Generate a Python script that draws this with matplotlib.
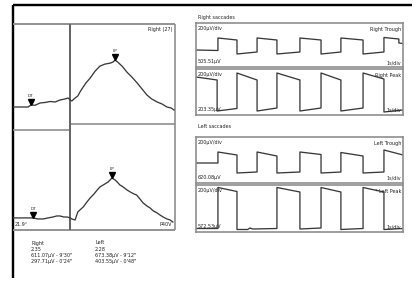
import matplotlib
matplotlib.use("Agg")
import matplotlib.pyplot as plt
from matplotlib.transforms import offset_copy

W, H = 415, 281

# ---------------- EOG light-rise curves (time in min, amplitude in µV) ----------------
right_t = [0, 1.3, 2.8, 3.3, 4.1, 5.0, 5.9, 6.9, 7.8, 8.7, 9.6, 10.2, 10.6, 10.9, 11.5, 12.0,
           12.4, 13.0, 13.5, 14.3, 15.2, 16.1, 17.0, 18.0, 18.5, 18.9, 19.4, 20.2, 21.1, 22.0,
           23.0, 23.9, 24.8, 25.7, 26.7, 27.6, 28.5, 29.3, 29.8]
right_v = [236, 236, 236, 252, 250, 268, 272, 280, 276, 292, 300, 308, 292, 284, 308, 324,
           356, 396, 428, 468, 523, 563, 579, 587, 595, 611, 595, 563, 515, 476,
           428, 380, 332, 300, 276, 260, 236, 228, 212]
left_t = [0, 0.7, 2.2, 3.7, 4.6, 5.6, 6.5, 7.4, 8.1, 8.7, 9.4, 10.0, 10.6, 10.9, 11.5, 12.0,
          13.0, 13.7, 14.3, 15.0, 15.6, 16.1, 16.7, 17.6, 18.0, 18.3, 18.9, 19.3, 19.8, 20.4,
          21.1, 21.7, 22.4, 22.9, 23.5, 24.1, 24.8, 25.4, 26.0, 26.7, 27.2, 27.8, 28.5, 29.1, 29.6]
left_v = [286, 286, 286, 286, 276, 276, 286, 295, 305, 305, 295, 295, 286, 276, 266, 344,
          392, 441, 480, 518, 557, 586, 605, 634, 654, 673, 654, 634, 605, 586,
          557, 538, 518, 508, 470, 431, 402, 382, 353, 334, 315, 295, 276, 266, 247]
right_dt = (3.3, 252)
right_lp = (18.9, 611)
left_dt = (3.7, 286)
left_lp = (18.3, 673)

# ---------------- Saccade traces (time in s, amplitude in µV) ----------------
rtr_t = [0, 1.06, 1.06, 1.98, 1.98, 2.95, 2.95, 3.91, 3.91, 5.02, 5.02, 6.04, 6.04, 7.0, 7.0,
         8.07, 8.07, 9.08, 9.08, 9.8, 9.8, 10]
rtr_v = [-100, -110, 140, 100, -180, -140, 140, 100, -180, -140, 140, 100, -180, -140, 140,
         100, -180, -140, 150, 120, 40, 30]
rpk_t = [0, 1.02, 1.02, 1.98, 1.98, 2.95, 2.95, 3.91, 3.91, 5.02, 5.02, 6.04, 6.04, 7.0, 7.0,
         8.07, 8.07, 9.08, 9.08, 10]
rpk_v = [300, 240, -380, -330, 380, 240, -380, -320, 380, 240, -380, -320, 380, 240, -380,
         -320, 380, 260, -400, -360]
ltr_t = [0, 1.06, 1.06, 1.98, 1.98, 2.95, 2.95, 3.91, 3.91, 5.02, 5.02, 6.04, 6.04, 7.0, 7.0,
         8.07, 8.07, 9.08, 9.08, 10]
ltr_v = [-60, -60, 160, 100, -260, -240, 160, 80, -260, -240, 160, 110, -260, -240, 150,
         80, -260, -240, 200, 100]
lpk_t = [0, 1.06, 1.06, 1.98, 1.98, 2.5, 2.6, 2.75, 3.91, 3.91, 5.02, 5.02, 6.04, 6.04, 7.0,
         7.0, 8.07, 8.07, 9.08, 9.08, 10]
lpk_v = [-400, -400, 420, 340, -420, -420, -390, -410, -400, 420, 330, -410, -390, 420, 330,
         -420, -400, 420, 330, -420, -400]

saccade_panels = [
    (rtr_t, rtr_v, "Right Trough", "505.51µV", 23, 67),
    (rpk_t, rpk_v, "Right Peak", "203.35µV", 69, 115),
    (ltr_t, ltr_v, "Left Trough", "620.08µV", 137, 183),
    (lpk_t, lpk_v, "* Left Peak", "572.53µV", 185, 232),
]

summary_right = ["Right", "2.35", "611.07µV - 9'30\"", "297.71µV - 0'24\""]
summary_left = ["Left", "2.28", "673.38µV - 9'12\"", "403.55µV - 0'48\""]

# ---------------------------------------------------------------------------
fig = plt.figure(figsize=(W / 100, H / 100), dpi=100)
fig.patch.set_facecolor("white")


def rect(x0, y0, x1, y1):
    return [x0 / W, 1 - y1 / H, (x1 - x0) / W, (y1 - y0) / H]


px = 72 / 100.0  # points per pixel
fs = 3.5
txt_c = "#222222"
frame_c = "#8a8a8a"
line_c = "#383838"

# overlay for page layout (pixel coordinates)
ov = fig.add_axes([0, 0, 1, 1])
ov.set_xlim(0, W)
ov.set_ylim(H, 0)
ov.axis("off")
ov.plot([13, 412], [5, 5], color="black", lw=2.4 * px, solid_capstyle="butt")
ov.plot([13, 13], [5, 278], color="black", lw=2.4 * px, solid_capstyle="butt")
for (xs, ys, c, lw) in [
    ([13, 175], [24, 24], frame_c, 1.8),
    ([175, 175], [24, 230], frame_c, 1.6),
    ([13, 175], [230, 230], frame_c, 1.8),
    ([70, 175], [124, 124], frame_c, 1.6),
    ([13, 70], [130, 130], frame_c, 1.6),
    ([70, 70], [24, 230], "#666666", 2.0),
]:
    ov.plot(xs, ys, color=c, lw=lw * px, solid_capstyle="butt")

ov.text(172, 30, "Right (27)", fontsize=fs, ha="right", va="center", color=txt_c)
ov.text(15, 224, "21.9°", fontsize=fs, ha="left", va="center", color=txt_c)
ov.text(172, 225, "P40V", fontsize=fs, ha="right", va="center", color=txt_c)
ov.text(198, 18, "Right saccades", fontsize=fs, ha="left", va="center", color=txt_c)
ov.text(198, 126, "Left saccades", fontsize=fs, ha="left", va="center", color=txt_c)

for i, s in enumerate(summary_right):
    ov.text(31, 243 + i * 6.3, s, fontsize=fs, ha="left", va="center", color=txt_c)
for i, s in enumerate(summary_left):
    ov.text(95, 243 + i * 6.3, s, fontsize=fs, ha="left", va="center", color=txt_c)


def eog_axes(y0, y1, ylim, t, v, dt, lp, lab_dt, lab_lp):
    ax = fig.add_axes(rect(13, y0, 175, y1))
    ax.set_xlim(0, 30)
    ax.set_ylim(*ylim)
    ax.axis("off")
    ax.patch.set_alpha(0)
    ax.plot(t, v, color=line_c, lw=1.3 * px)
    tr = offset_copy(ax.transData, fig=fig, y=3, units="dots")
    for (pt, lab) in [(dt, lab_dt), (lp, lab_lp)]:
        ax.plot([pt[0]], [pt[1]], marker="v", ms=5, color="black", transform=tr)
        ax.annotate(lab, xy=pt, xytext=(0, 9), textcoords="offset pixels",
                    fontsize=3.0, ha="center", va="center", color=txt_c)
    return ax


eog_axes(24, 124, (100, 900), right_t, right_v, right_dt, right_lp, "DT", "LP")
eog_axes(124, 230, (169, 1196), left_t, left_v, left_dt, left_lp, "DT", "LP")

for (t, v, name, amp, y0, y1) in saccade_panels:
    ax = fig.add_axes(rect(196, y0, 403, y1))
    ax.set_xlim(0, 10)
    half = (y1 - y0) * 10
    ax.set_ylim(-half, half)
    ax.set_xticks([])
    ax.set_yticks([])
    for sp in ax.spines.values():
        sp.set_color(frame_c)
        sp.set_linewidth(1.6 * px)
    ax.patch.set_alpha(0)
    ax.plot(t, v, color=line_c, lw=1.3 * px)
    ax.text(0.01, 0.88, "200µV/div", transform=ax.transAxes, fontsize=fs, ha="left", va="center", color=txt_c)
    ax.text(0.99, 0.86, name, transform=ax.transAxes, fontsize=fs, ha="right", va="center", color=txt_c)
    ax.text(0.01, 0.12, amp, transform=ax.transAxes, fontsize=fs, ha="left", va="center", color=txt_c)
    ax.text(0.99, 0.1, "1s/div", transform=ax.transAxes, fontsize=fs, ha="right", va="center", color=txt_c)

fig.savefig("out.png", dpi=100)
